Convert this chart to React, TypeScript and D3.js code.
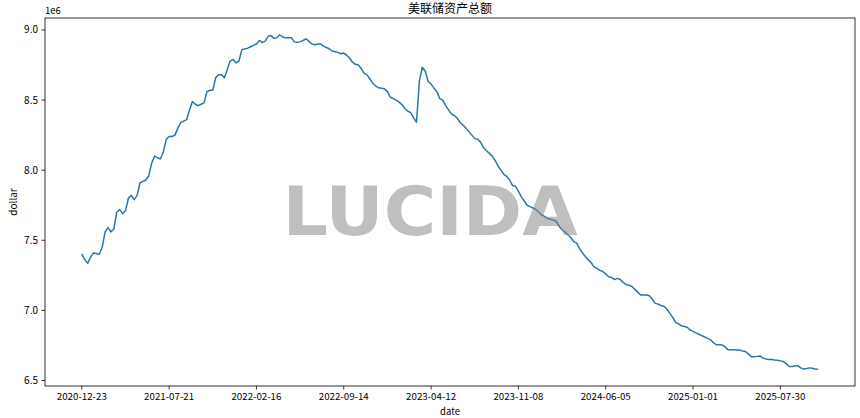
import React from "react";
import * as d3 from "d3";

// Weekly observations (Wednesdays), starting 2020-12-23
const START_DATE = "2020-12-23";
const TITLE = "美联储资产总额";
const X_LABEL = "date";
const Y_LABEL = "dollar";
const Y_OFFSET_LABEL = "1e6";
const WATERMARK = "LUCIDA";
const TICK_EVERY = 30;
const Y_TICKS = [6.5, 7.0, 7.5, 8.0, 8.5, 9.0];

// Total assets, in units of 1e6 (millions of dollars)
const assets: number[] = [
  7.403, 7.362, 7.335, 7.38, 7.41, 7.405, 7.40, 7.45, 7.56, 7.59,
  7.56, 7.58, 7.70, 7.72, 7.69, 7.71, 7.80, 7.82, 7.79, 7.82,
  7.91, 7.92, 7.93, 7.96, 8.05, 8.10, 8.09, 8.08, 8.13, 8.22,
  8.24, 8.24, 8.25, 8.30, 8.34, 8.35, 8.36, 8.43, 8.49, 8.47,
  8.46, 8.47, 8.48, 8.56, 8.57, 8.57, 8.66, 8.68, 8.68, 8.66,
  8.72, 8.78, 8.79, 8.765, 8.78, 8.86, 8.865, 8.87, 8.88, 8.89,
  8.90, 8.925, 8.91, 8.92, 8.955, 8.96, 8.94, 8.945, 8.966, 8.95,
  8.944, 8.944, 8.945, 8.915, 8.913, 8.915, 8.925, 8.937, 8.92, 8.90,
  8.895, 8.90, 8.90, 8.885, 8.875, 8.866, 8.85, 8.845, 8.84, 8.83,
  8.835, 8.82, 8.80, 8.77, 8.755, 8.75, 8.725, 8.69, 8.68, 8.65,
  8.62, 8.60, 8.587, 8.585, 8.58, 8.56, 8.52, 8.51, 8.50, 8.485,
  8.468, 8.44, 8.42, 8.41, 8.373, 8.342, 8.639, 8.734, 8.706, 8.632,
  8.614, 8.585, 8.56, 8.51, 8.50, 8.46, 8.43, 8.40, 8.39, 8.37,
  8.34, 8.32, 8.30, 8.275, 8.25, 8.225, 8.22, 8.20, 8.16, 8.14,
  8.12, 8.10, 8.07, 8.03, 8.00, 7.97, 7.955, 7.93, 7.89, 7.885,
  7.85, 7.81, 7.78, 7.75, 7.74, 7.73, 7.72, 7.70, 7.68, 7.67,
  7.655, 7.65, 7.645, 7.634, 7.60, 7.575, 7.56, 7.54, 7.52, 7.49,
  7.48, 7.44, 7.41, 7.385, 7.36, 7.34, 7.31, 7.30, 7.285, 7.277,
  7.26, 7.24, 7.235, 7.22, 7.228, 7.22, 7.20, 7.185, 7.18, 7.17,
  7.15, 7.13, 7.11, 7.11, 7.11, 7.105, 7.08, 7.05, 7.045, 7.035,
  7.03, 7.01, 6.98, 6.95, 6.915, 6.905, 6.89, 6.885, 6.88, 6.86,
  6.85, 6.84, 6.83, 6.82, 6.81, 6.80, 6.79, 6.77, 6.755, 6.755,
  6.754, 6.74, 6.72, 6.72, 6.72, 6.718, 6.718, 6.71, 6.706, 6.69,
  6.67, 6.67, 6.672, 6.675, 6.66, 6.654, 6.65, 6.65, 6.646, 6.645,
  6.64, 6.635, 6.62, 6.60, 6.60, 6.603, 6.606, 6.59, 6.582, 6.585,
  6.59, 6.587, 6.582, 6.58,
];

const W = 860;
const H = 418;
const M = { left: 45, right: 5, top: 18, bottom: 32 };
const FONT = "'Noto Sans CJK SC', 'DejaVu Sans', sans-serif";

export default function App() {
  const start = d3.utcParse("%Y-%m-%d")(START_DATE)!;
  const fmt = d3.utcFormat("%Y-%m-%d");
  const dates = assets.map((_, i) => d3.utcDay.offset(start, 7 * i));

  const n = assets.length;
  const xPad = (n - 1) * 0.05;
  const x = d3
    .scaleLinear()
    .domain([-xPad, n - 1 + xPad])
    .range([M.left, W - M.right]);

  const [ymin, ymax] = d3.extent(assets) as [number, number];
  const yPad = (ymax - ymin) * 0.05;
  const y = d3
    .scaleLinear()
    .domain([ymin - yPad, ymax + yPad])
    .range([H - M.bottom, M.top]);

  const line = d3
    .line<number>()
    .x((_, i) => x(i))
    .y((d) => y(d));

  const xTickIdx = d3.range(0, n, TICK_EVERY);
  const x0 = M.left;
  const x1 = W - M.right;
  const y0 = H - M.bottom;
  const y1 = M.top;
  const cx = (x0 + x1) / 2;

  return (
    <svg
      width={W}
      height={H}
      style={{ position: "absolute", left: 0, top: 0, background: "#fff" }}
      fontFamily={FONT}
    >
      <rect x={0} y={0} width={W} height={H} fill="#fff" />
      <text x={cx} y={13} textAnchor="middle" fontSize={12} fill="#000">
        {TITLE}
      </text>
      <text x={x0} y={14} fontSize={9.5} fill="#000">
        {Y_OFFSET_LABEL}
      </text>

      <path
        d={line(assets) || ""}
        fill="none"
        stroke="#2a78a6"
        strokeWidth={1.5}
        strokeLinejoin="round"
      />

      <text
        x={cx - 20}
        y={235}
        textAnchor="middle"
        fontSize={68}
        fontWeight="bold"
        fontFamily="'DejaVu Sans', sans-serif"
        fill="#808080"
        fillOpacity={0.5}
        textLength={295}
        lengthAdjust="spacingAndGlyphs"
      >
        {WATERMARK}
      </text>

      <rect
        x={x0}
        y={y1}
        width={x1 - x0}
        height={y0 - y1}
        fill="none"
        stroke="#000"
        strokeWidth={0.8}
      />

      {Y_TICKS.map((t) => (
        <g key={t}>
          <line x1={x0 - 3.5} x2={x0} y1={y(t)} y2={y(t)} stroke="#000" strokeWidth={0.8} />
          <text
            x={x0 - 7}
            y={y(t)}
            dy="0.35em"
            textAnchor="end"
            fontSize={10}
            fill="#000"
          >
            {t.toFixed(1)}
          </text>
        </g>
      ))}

      {xTickIdx.map((i) => (
        <g key={i}>
          <line x1={x(i)} x2={x(i)} y1={y0} y2={y0 + 3.5} stroke="#000" strokeWidth={0.8} />
          <text
            x={x(i)}
            y={y0 + 14}
            textAnchor="middle"
            fontSize={9.5}
            fill="#000"
            textLength={50}
            lengthAdjust="spacingAndGlyphs"
          >
            {fmt(dates[i])}
          </text>
        </g>
      ))}

      <text x={cx} y={414.5} textAnchor="middle" fontSize={9.5} fill="#000">
        {X_LABEL}
      </text>
      <text
        transform={`translate(17, ${(y0 + y1) / 2}) rotate(-90)`}
        textAnchor="middle"
        fontSize={10}
        fill="#000"
      >
        {Y_LABEL}
      </text>
    </svg>
  );
}
